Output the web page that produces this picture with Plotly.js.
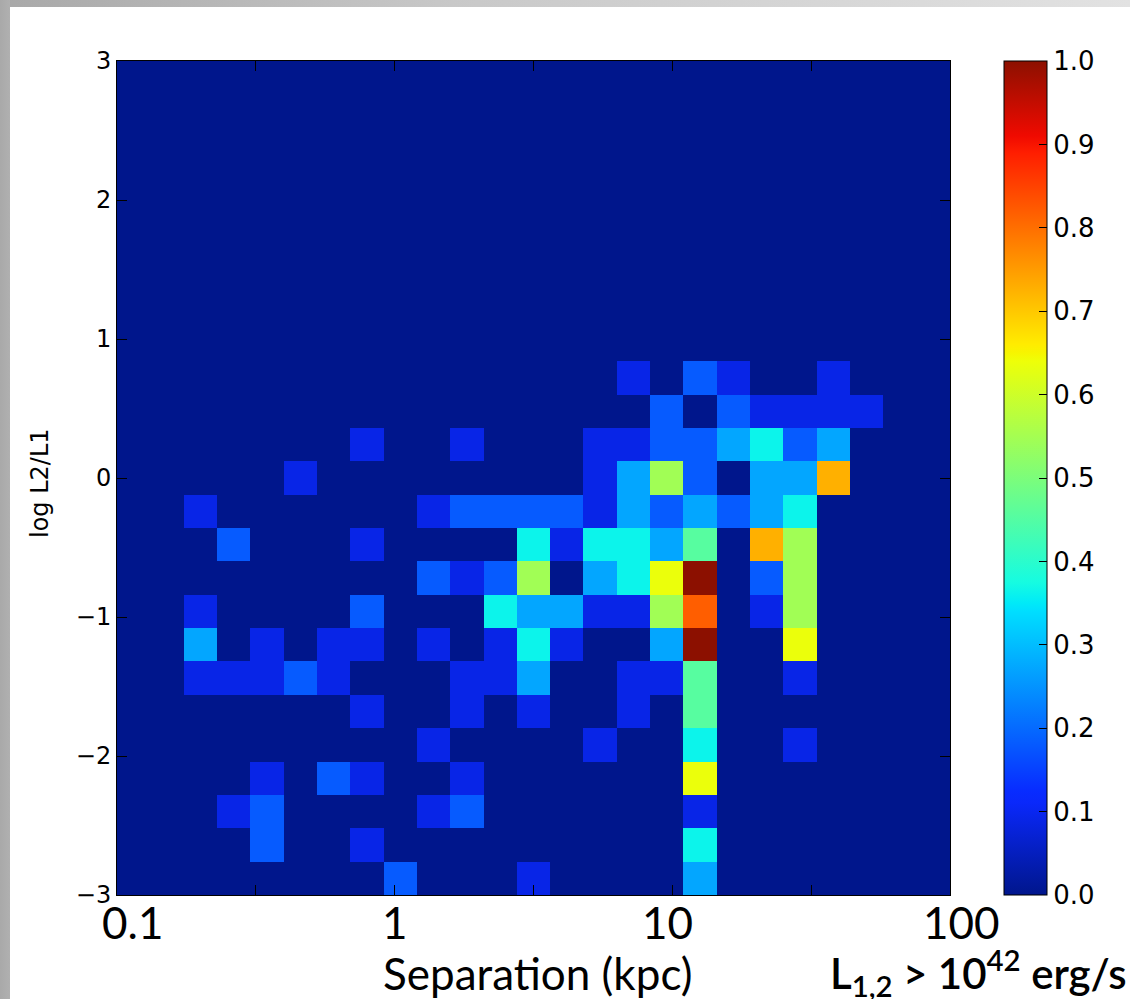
<!DOCTYPE html>
<html>
<head>
<meta charset="utf-8">
<script src="https://cdn.plot.ly/plotly-3.0.1.min.js"></script>
<style>
  html, body { margin: 0; padding: 0; background: #ffffff; }
  #frame {
    position: absolute; left: 0; top: 0; width: 1130px; height: 999px;
    background:
      linear-gradient(to right, #a9a9a9 0px, #b0b0b0 10px, rgba(0,0,0,0) 10px),
      linear-gradient(to right, #a8a8a8, #c8c8c8 40%, #e2e2e2) top left / 100% 7px no-repeat,
      #ffffff;
  }
  #chart { position: absolute; left: 0; top: 0; width: 1130px; height: 999px; }
</style>
</head>
<body>
<div id="frame"></div>
<div id="chart"></div>
<script>
// Projected separation bin edges (kpc), 0.12 dex wide
const separationEdgesKpc = [0.1, 0.13183, 0.17378, 0.22909, 0.30200, 0.39811, 0.52481,
  0.69183, 0.91201, 1.20226, 1.58489, 2.08930, 2.75423, 3.63078, 4.78630, 6.30957,
  8.31764, 10.9648, 14.4544, 19.0546, 25.1189, 33.1131, 43.6516, 57.5440, 75.8578, 100];

// log(L2/L1) bin edges
const logRatioEdges = [-3, -2.76, -2.52, -2.28, -2.04, -1.8, -1.56, -1.32, -1.08, -0.84,
  -0.6, -0.36, -0.12, 0.12, 0.36, 0.6, 0.84, 1.08, 1.32, 1.56, 1.8, 2.04, 2.28, 2.52, 2.76, 3];

// Pair counts per bin, one row per log(L2/L1) bin from the bottom (-3) upward
const pairCounts = [
  [0,0,0,0,0,0,0,0,2,0,0,0,1,0,0,0,0,3,0,0,0,0,0,0,0],
  [0,0,0,0,2,0,0,1,0,0,0,0,0,0,0,0,0,4,0,0,0,0,0,0,0],
  [0,0,0,1,2,0,0,0,0,1,2,0,0,0,0,0,0,1,0,0,0,0,0,0,0],
  [0,0,0,0,1,0,2,1,0,0,1,0,0,0,0,0,0,7,0,0,0,0,0,0,0],
  [0,0,0,0,0,0,0,0,0,1,0,0,0,0,1,0,0,4,0,0,1,0,0,0,0],
  [0,0,0,0,0,0,0,1,0,0,1,0,1,0,0,1,0,5,0,0,0,0,0,0,0],
  [0,0,1,1,1,2,1,0,0,0,1,1,3,0,0,1,1,5,0,0,1,0,0,0,0],
  [0,0,3,0,1,0,1,1,0,1,0,1,4,1,0,0,3,11,0,0,7,0,0,0,0],
  [0,0,1,0,0,0,0,2,0,0,0,4,3,3,1,1,6,9,0,1,6,0,0,0,0],
  [0,0,0,0,0,0,0,0,0,2,1,2,6,0,3,4,7,11,0,2,6,0,0,0,0],
  [0,0,0,2,0,0,0,1,0,0,0,0,4,1,4,4,3,5,0,8,6,0,0,0,0],
  [0,0,1,0,0,0,0,0,0,1,2,2,2,2,1,3,2,3,2,3,4,0,0,0,0],
  [0,0,0,0,0,1,0,0,0,0,0,0,0,0,1,3,6,2,0,3,3,8,0,0,0],
  [0,0,0,0,0,0,0,1,0,0,1,0,0,0,1,1,2,2,3,4,2,3,0,0,0],
  [0,0,0,0,0,0,0,0,0,0,0,0,0,0,0,0,2,0,2,1,1,1,1,0,0],
  [0,0,0,0,0,0,0,0,0,0,0,0,0,0,0,1,0,2,1,0,0,1,0,0,0],
  [0,0,0,0,0,0,0,0,0,0,0,0,0,0,0,0,0,0,0,0,0,0,0,0,0],
  [0,0,0,0,0,0,0,0,0,0,0,0,0,0,0,0,0,0,0,0,0,0,0,0,0],
  [0,0,0,0,0,0,0,0,0,0,0,0,0,0,0,0,0,0,0,0,0,0,0,0,0],
  [0,0,0,0,0,0,0,0,0,0,0,0,0,0,0,0,0,0,0,0,0,0,0,0,0],
  [0,0,0,0,0,0,0,0,0,0,0,0,0,0,0,0,0,0,0,0,0,0,0,0,0],
  [0,0,0,0,0,0,0,0,0,0,0,0,0,0,0,0,0,0,0,0,0,0,0,0,0],
  [0,0,0,0,0,0,0,0,0,0,0,0,0,0,0,0,0,0,0,0,0,0,0,0,0],
  [0,0,0,0,0,0,0,0,0,0,0,0,0,0,0,0,0,0,0,0,0,0,0,0,0],
  [0,0,0,0,0,0,0,0,0,0,0,0,0,0,0,0,0,0,0,0,0,0,0,0,0]
];

// Axis tick labels
const separationTickLabels = ['0.1', '1', '10', '100'];
const separationTickValues = [0.1, 1, 10, 100];
const logRatioTicks = [-3, -2, -1, 0, 1, 2, 3];
const fractionTicks = [0, 0.1, 0.2, 0.3, 0.4, 0.5, 0.6, 0.7, 0.8, 0.9, 1.0];

// Normalise to the most populated bin
const peakCount = Math.max(...pairCounts.map(r => Math.max(...r)));
const fraction = pairCounts.map(r => r.map(c => c / peakCount));

// Jet-like colour scale
const jet = [
  [0.0,  'rgb(0,22,140)'],
  [0.11, 'rgb(10,40,250)'],
  [0.125,'rgb(8,44,255)'],
  [0.34, 'rgb(0,222,255)'],
  [0.35, 'rgb(0,234,248)'],
  [0.375,'rgb(22,252,225)'],
  [0.64, 'rgb(238,255,8)'],
  [0.65, 'rgb(247,245,0)'],
  [0.66, 'rgb(255,236,0)'],
  [0.89, 'rgb(255,30,0)'],
  [0.91, 'rgb(240,10,0)'],
  [1.0,  'rgb(140,16,0)']
];

const tickFont = {family: 'DejaVu Sans', size: 24, color: '#000'};
const cbarFont = {family: 'DejaVu Sans', size: 26, color: '#000'};
const labelFont = {family: 'Lato', size: 44, color: '#000'};

const trace = {
  type: 'heatmap',
  x: separationEdgesKpc,
  y: logRatioEdges,
  z: fraction,
  zmin: 0, zmax: 1,
  colorscale: jet,
  zsmooth: false,
  hoverinfo: 'skip',
  colorbar: {
    x: 1.0648, xanchor: 'left', xref: 'paper',
    y: 0.5, yanchor: 'middle',
    len: 1, lenmode: 'fraction',
    thickness: 43, thicknessmode: 'pixels',
    xpad: 0, ypad: 0,
    outlinewidth: 1, outlinecolor: '#000',
    ticks: 'inside', ticklen: 8, tickcolor: '#000', tickwidth: 1,
    tickvals: fractionTicks,
    ticktext: fractionTicks.map(v => v.toFixed(1)),
    tickfont: cbarFont
  }
};

const annotations = separationTickLabels.map((t, i) => ({
  xref: 'x', yref: 'paper',
  x: Math.log10(separationTickValues[i]), y: -0.032,
  xshift: [15, 0, -5, 11][i],
  text: t, showarrow: false,
  xanchor: 'center', yanchor: 'middle',
  font: labelFont
}));

annotations.push({
  xref: 'paper', yref: 'paper', x: 0.505, y: -0.093,
  text: 'Separation (kpc)', showarrow: false,
  xanchor: 'center', yanchor: 'middle', font: labelFont
});
annotations.push({
  xref: 'paper', yref: 'paper', x: 1.034, y: -0.093,
  text: 'L<sub>1,2</sub> > 10<sup>42</sup> erg/s', showarrow: false,
  xanchor: 'center', yanchor: 'middle',
  font: {family: 'Lato', size: 42, color: '#000', weight: 600}
});
annotations.push({
  xref: 'paper', yref: 'paper', x: -0.0924, y: 0.494,
  text: 'log L2/L1', showarrow: false, textangle: -90,
  xanchor: 'center', yanchor: 'middle', font: tickFont
});

const layout = {
  width: 1130, height: 999,
  margin: {l: 117, r: 180, t: 61, b: 104, pad: 0},
  paper_bgcolor: 'rgba(0,0,0,0)',
  plot_bgcolor: 'rgb(0,22,140)',
  showlegend: false,
  xaxis: {
    type: 'log', range: [-1, 2],
    tickvals: [0.1, 0.31623, 1, 3.16228, 10, 31.6228, 100],
    showticklabels: false,
    ticks: 'inside', ticklen: 10, tickcolor: '#000', tickwidth: 1,
    showline: true, linecolor: '#000', linewidth: 1, mirror: 'ticks',
    showgrid: false, zeroline: false
  },
  yaxis: {
    range: [-3, 3],
    tickvals: logRatioTicks,
    ticktext: logRatioTicks.map(v => v < 0 ? '\u2212' + Math.abs(v) : String(v)),
    tickfont: tickFont,
    ticks: 'inside', ticklen: 10, tickcolor: '#000', tickwidth: 1,
    showline: true, linecolor: '#000', linewidth: 1, mirror: 'ticks',
    showgrid: false, zeroline: false
  },
  annotations: annotations
};

Plotly.newPlot('chart', [trace], layout, {displayModeBar: false, staticPlot: true});
</script>
</body>
</html>
